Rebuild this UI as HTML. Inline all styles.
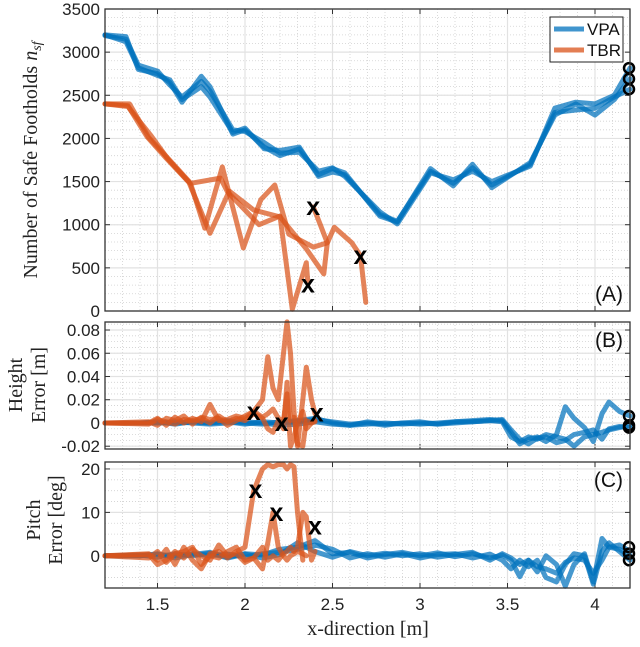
<!DOCTYPE html>
<html><head><meta charset="utf-8"><style>
body{margin:0;background:#fff}
svg text{font-family:"Liberation Sans",sans-serif}
svg text.serif{font-family:"Liberation Serif",serif}
</style></head><body>
<svg id="chart" width="640" height="642" xmlns="http://www.w3.org/2000/svg"></svg>
<script>
// ---- data ----
const xTicks = [1.5, 2, 2.5, 3, 3.5, 4];
const xTickLabels = ["1.5","2","2.5","3","3.5","4"];
const aTicks = [0,500,1000,1500,2000,2500,3000,3500];
const bTicks = [-0.02,0,0.02,0.04,0.06,0.08];
const bTickLabels = ["-0.02","0","0.02","0.04","0.06","0.08"];
const cTicks = [0,10,20];

const aBlueX = [1.2,1.32,1.39,1.5,1.57,1.64,1.75,1.8,1.93,2.0,2.11,2.2,2.31,2.42,2.5,2.57,2.77,2.87,3.06,3.19,3.3,3.41,3.63,3.77,3.89,4.0,4.11,4.2];
const aBlue1 = [3200,3180,2800,2750,2650,2420,2720,2600,2050,2100,1900,1800,1880,1580,1650,1600,1100,1030,1650,1450,1700,1430,1720,2270,2400,2270,2450,2690];
const aBlue2 = [3190,3150,2850,2780,2620,2480,2660,2550,2100,2080,1950,1830,1840,1620,1660,1560,1150,1010,1600,1520,1620,1500,1680,2350,2420,2400,2500,2815];
const aBlue3 = [3200,3120,2820,2730,2680,2450,2600,2480,2070,2120,1880,1860,1900,1560,1610,1580,1120,1040,1620,1480,1660,1460,1700,2300,2330,2350,2480,2570];
const aOr1X = [1.2,1.34,1.45,1.56,1.69,1.86,1.9,2.08,2.2,2.27,2.35,2.36];
const aOr1 = [2400,2400,2010,1770,1480,1540,1380,1000,1100,20,560,310];
const aOr2X = [1.2,1.33,1.46,1.56,1.69,1.77,1.87,1.99,2.09,2.17,2.25,2.39,2.47,2.51,2.61,2.66,2.69];
const aOr2 = [2400,2370,2040,1760,1470,960,1670,730,1290,1460,890,740,790,970,790,640,100];
const aOr3X = [1.2,1.33,1.44,1.55,1.68,1.8,1.91,2.05,2.2,2.35,2.45,2.47,2.43,2.39];
const aOr3 = [2400,2380,2020,1770,1490,900,1390,1170,1090,720,430,790,1000,1205];
const aFailX = [2.39,2.66,2.36];
const aFailY = [1205,640,310];
const aEndY = [2815,2690,2570];

const bcBlueX = [1.2,1.4,1.5,1.6,1.7,1.8,1.9,2.0,2.1,2.2,2.3,2.4,2.5,2.6,2.7,2.8,2.9,3.0,3.1,3.2,3.3,3.4,3.47,3.52,3.57,3.62,3.67,3.72,3.78,3.83,3.88,3.94,3.99,4.04,4.08,4.14,4.2];
const bBlue1 = [0,0,0.001,-0.001,0.001,0,0.002,0,-0.001,0.001,0.002,0.004,0,-0.002,0.001,-0.001,0,0.001,-0.001,0.001,0.002,0.003,0.002,-0.008,-0.018,-0.014,-0.012,-0.016,-0.01,0.014,0.004,-0.004,-0.016,0.008,0.018,0.01,0.006];
const bBlue2 = [0,0,0,0.001,0,-0.001,0,0.001,0,-0.002,-0.001,0.001,-0.001,-0.002,-0.001,0,-0.001,0,-0.001,0,0.001,0.002,0.001,-0.012,-0.016,-0.012,-0.014,-0.01,-0.012,-0.014,-0.02,-0.012,-0.01,-0.008,-0.006,-0.004,-0.002];
const bBlue3 = [0,0,0,0,0.001,0,0.001,-0.001,0.001,0,0.001,0.003,0.001,-0.001,0,-0.002,0,-0.001,0,0.001,0.001,0.002,0.003,-0.006,-0.014,-0.018,-0.013,-0.012,-0.017,-0.015,-0.01,-0.008,-0.006,-0.014,-0.005,-0.003,-0.004];
const cBlue1 = [0,0,0.5,-0.5,0.3,0.8,-0.3,0.5,0.2,1.5,2,3.5,0.5,0.8,-0.5,0.3,0.8,0,0.7,-0.2,0.5,-0.5,0.2,-1,-4.8,-1,-3.7,0,-2,-7,-2,0.5,-6,4,2,2.5,1];
const cBlue2 = [0,0,0.3,0,0.5,0,0.4,-0.3,0.5,0.8,1.5,2.5,1.5,-0.5,0.5,-0.3,0.5,-0.5,0.3,0.5,-0.5,0.4,-1,-3,-1,-2.5,-1,-5,-6,-2,0.5,0,-6.5,1,3,1,-1];
const cBlue3 = [0,0.2,-0.3,0.5,0,0.6,-0.5,0.4,-0.5,0.3,3,1,-0.3,1,0,0.6,0,0.5,-0.3,0.3,0.8,-1,0.5,-0.5,-2,-1,-2.5,-3,-4,-1.5,-0.5,-1,-4,-1,2,1.5,0];
const bEndY = [0.006,-0.002,-0.004];
const cEndY = [2,0.5,-1];

const bcOrX = [1.2,1.45,1.5,1.55,1.6,1.65,1.7,1.75,1.8,1.85,1.9,1.95,2.0,2.05,2.1,2.13,2.16,2.19,2.22,2.24,2.26,2.28,2.3,2.33,2.35,2.38,2.4];
const bOr1 = [0,0,0.004,-0.002,0.005,0,0.004,0.001,0.016,0.002,0.003,0.006,0.004,0.01,0.02,0.057,0.03,0.02,0.06,0.087,0.06,0.01,-0.02,0.02,0.048,0.02,0.008];
const bOr2 = [0,0.001,-0.002,0.004,0.002,0.006,-0.001,0.005,0.003,0.004,-0.002,0.002,0.006,0.01,0.005,0.008,0.012,0.004,0.002,0.025,-0.02,-0.012,0,0.01,-0.005,0,0.002];
const bOr3 = [0,-0.001,0.003,0.001,-0.001,0.003,0.002,0.004,0,0.006,0.001,0.004,0.002,0.008,0.004,-0.005,-0.008,0.002,-0.005,0.035,0.002,0.005,-0.018,-0.02,0.002,0,0.001];
const cOr1 = [0,0.5,-1,1.5,-2,2,-1,-3,0.5,1,-0.5,1,2,15,20,21,20.5,21,21,20,21,20.5,10,-1,null,null,null];
const cOr2 = [0,-0.5,1,-1.5,0.5,1,2,-2,0,-0.5,1,2,-1,-0.5,-3,3,10,2,0,-1,0,0.5,1,0.5,0,null,null];
const cOr3 = [0,0.3,-2,-1,1,-0.5,1.5,0,-1,2.5,0,0.5,-1.5,-0.5,2,-1,0,-1,0.5,1,2,1,2,10,9,-1,1];
const bFailX = [2.05,2.21,2.41];
const bFailY = [0.0095,0,0.008];
const cFailX = [2.06,2.18,2.40];
const cFailY = [15.2,9.9,6.7];

// ---- layout ----
const NS="http://www.w3.org/2000/svg";
const svg=document.getElementById('chart');
const L=105,R=630;
const xs=v=>L+(v-1.2)*(R-L)/3.0;
function el(tag,attrs,parent){const e=document.createElementNS(NS,tag);for(const k in attrs)e.setAttribute(k,attrs[k]);(parent||svg).appendChild(e);return e;}
const BLUE='rgba(0,114,189,0.72)', ORANGE='rgba(217,83,25,0.72)';

function panel(name,top,bot,ymin,ymax,yticks,ylabels,minorStep){
  const g=el('g',{});
  
  
  const ys=v=>bot-(v-ymin)*(bot-top)/(ymax-ymin);
  for(let v=1.2;v<=4.2001;v+=0.1){const x=xs(v);const m=el('line',{x1:x,x2:x,y1:top,y2:bot,stroke:'#d0d0d0','stroke-width':0.8,'stroke-dasharray':'1,2'},g);}
  const s0=Math.ceil(ymin/minorStep)*minorStep;
  for(let v=s0;v<=ymax+1e-9;v+=minorStep){const y=ys(v);const m=el('line',{x1:L,x2:R,y1:y,y2:y,stroke:'#d0d0d0','stroke-width':0.8,'stroke-dasharray':'1,2'},g);}
  xTicks.forEach(v=>{const x=xs(v);const m=el('line',{x1:x,x2:x,y1:top,y2:bot,stroke:'#e2e2e2','stroke-width':1.2},g);
    el('line',{x1:x,x2:x,y1:bot,y2:bot-5,stroke:'#333'},g);el('line',{x1:x,x2:x,y1:top,y2:top+5,stroke:'#333'},g);});
  yticks.forEach((v,i)=>{const y=ys(v);const m=el('line',{x1:L,x2:R,y1:y,y2:y,stroke:'#e2e2e2','stroke-width':1.2},g);
    el('line',{x1:L,x2:L+5,y1:y,y2:y,stroke:'#333'},g);el('line',{x1:R,x2:R-5,y1:y,y2:y,stroke:'#333'},g);
    const t=el('text',{x:L-5,y:y+6,'text-anchor':'end','font-size':17,fill:'#222'},g);t.textContent=ylabels[i];
    });
  return {g,ys,top,bot};
}
function line(p,xArr,yArr,color,name){
  let d='';let pen=false;
  yArr.forEach((v,i)=>{if(v===null){pen=false;return;}d+=(pen?'L':'M')+xs(xArr[i]).toFixed(1)+','+p.ys(v).toFixed(1);pen=true;});
  const e=el('path',{d,fill:'none',stroke:color,'stroke-width':5,'stroke-linejoin':'round','stroke-linecap':'round'},p.g);
  
  
}
function fails(p,xArr,yArr){
  xArr.forEach((v,i)=>{const t=el('text',{x:xs(v),y:p.ys(yArr[i])+8,'text-anchor':'middle','font-size':25,'font-weight':'bold',fill:'#000'},p.g);t.textContent='x';
    
    });
}
function ends(p,yArr){
  yArr.forEach(v=>{const c=el('ellipse',{cx:R-1,cy:p.ys(v),rx:5,ry:5,fill:'none',stroke:'#000','stroke-width':2.5},p.g);
    
    });
}
function frame(p,label){
  const r=el('rect',{x:L,y:p.top,width:R-L,height:p.bot-p.top,fill:'none',stroke:'#333','stroke-width':1.3},p.g);
  
  const t=el('text',{x:R-7,y:p.top,'text-anchor':'end','font-size':21,fill:'#111'},p.g);
  t.textContent=label;
  
  return t;
}

const pA=panel('panel-a',9,311,0,3500,aTicks,aTicks.map(String),100);
line(pA,aBlueX,aBlue1,BLUE,'vpa-line');line(pA,aBlueX,aBlue2,BLUE,'vpa-line');line(pA,aBlueX,aBlue3,BLUE,'vpa-line');
line(pA,aOr1X,aOr1,ORANGE,'tbr-line');line(pA,aOr2X,aOr2,ORANGE,'tbr-line');line(pA,aOr3X,aOr3,ORANGE,'tbr-line');
fails(pA,aFailX,aFailY);ends(pA,aEndY);
frame(pA,'(A)').setAttribute('y',301);
const pB=panel('panel-b',322,449,-0.0224,0.0869,bTicks,bTickLabels,0.005);
line(pB,bcBlueX,bBlue1,BLUE,'vpa-line');line(pB,bcBlueX,bBlue2,BLUE,'vpa-line');line(pB,bcBlueX,bBlue3,BLUE,'vpa-line');
line(pB,bcOrX,bOr1,ORANGE,'tbr-line');line(pB,bcOrX,bOr2,ORANGE,'tbr-line');line(pB,bcOrX,bOr3,ORANGE,'tbr-line');
fails(pB,bFailX,bFailY);ends(pB,bEndY);
frame(pB,'(B)').setAttribute('y',347);
const pC=panel('panel-c',462,588,-7.4,21.6,cTicks,cTicks.map(String),2.5);
line(pC,bcBlueX,cBlue1,BLUE,'vpa-line');line(pC,bcBlueX,cBlue2,BLUE,'vpa-line');line(pC,bcBlueX,cBlue3,BLUE,'vpa-line');
line(pC,bcOrX,cOr1,ORANGE,'tbr-line');line(pC,bcOrX,cOr2,ORANGE,'tbr-line');line(pC,bcOrX,cOr3,ORANGE,'tbr-line');
fails(pC,cFailX,cFailY);ends(pC,cEndY);
frame(pC,'(C)').setAttribute('y',487);

xTicks.forEach((v,i)=>{const t=el('text',{x:xs(v),y:610,'text-anchor':'middle','font-size':17,fill:'#222'});t.textContent=xTickLabels[i];
  
  });
</script>
<svg style="position:absolute;left:0;top:0" width="640" height="642" xmlns="http://www.w3.org/2000/svg">
  <text class="serif" x="368" y="635" text-anchor="middle" font-size="20" fill="#222">x-direction [m]</text>
  <text class="serif" transform="translate(37,160) rotate(-90)" text-anchor="middle" font-size="20" fill="#222">Number of Safe Footholds <tspan font-style="italic">n</tspan><tspan font-style="italic" font-size="14" dy="4">sf</tspan></text>
  <text class="serif" transform="translate(22,385) rotate(-90)" text-anchor="middle" font-size="20" fill="#222">Height</text>
  <text class="serif" transform="translate(45,385) rotate(-90)" text-anchor="middle" font-size="20" fill="#222">Error [m]</text>
  <text class="serif" transform="translate(40,520) rotate(-90)" text-anchor="middle" font-size="20" fill="#222">Pitch</text>
  <text class="serif" transform="translate(62,520) rotate(-90)" text-anchor="middle" font-size="20" fill="#222">Error [deg]</text>
  <g>
    <rect x="550" y="17" width="73" height="45" fill="#fff" stroke="#222" stroke-width="1"/>
    <line x1="554" x2="584" y1="29" y2="29" stroke="rgba(0,114,189,0.75)" stroke-width="5"/>
    <text x="587" y="35" font-size="17" fill="#111">VPA</text>
    <line x1="554" x2="584" y1="50" y2="50" stroke="rgba(217,83,25,0.75)" stroke-width="5"/>
    <text x="587" y="56" font-size="17" fill="#111">TBR</text>
  </g>
</svg>
</body></html>
